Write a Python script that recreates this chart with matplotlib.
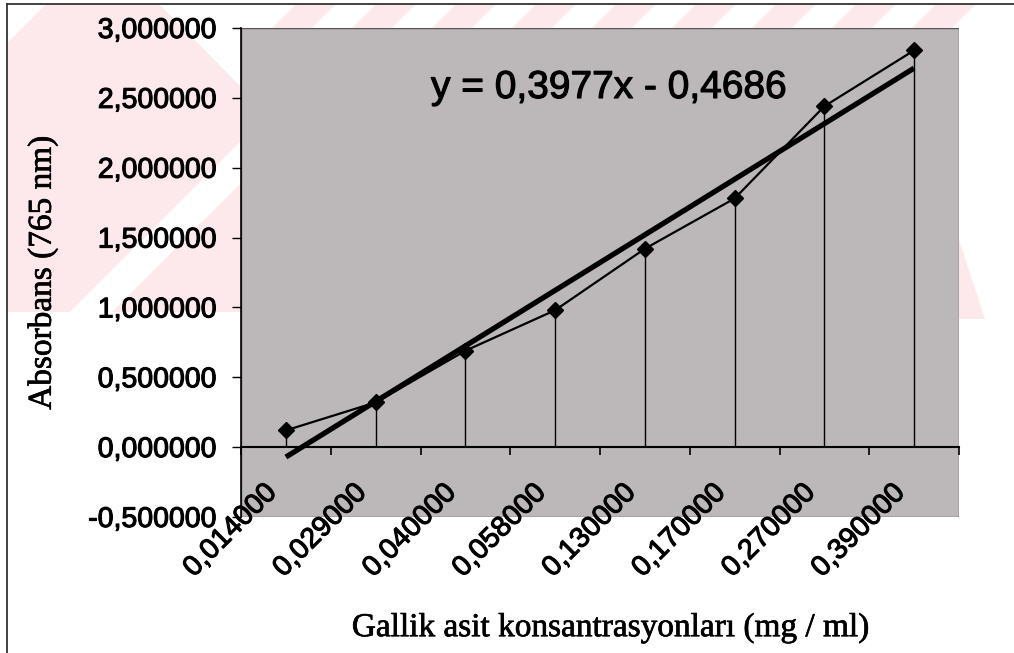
import matplotlib
matplotlib.use("Agg")
import matplotlib.pyplot as plt
from matplotlib.patches import Polygon, Rectangle
from matplotlib.lines import Line2D
from matplotlib.transforms import ScaledTranslation
import matplotlib.patheffects as pe
import numpy as np

# ---- data ----
categories = ["0,014000", "0,029000", "0,040000", "0,058000",
              "0,130000", "0,170000", "0,270000", "0,390000"]
absorbance = [0.12, 0.32, 0.69, 0.98, 1.42, 1.78, 2.44, 2.84]
trend_slope = 0.3977
trend_intercept = -0.4686
equation_text = "y = 0,3977x - 0,4686"
y_ticks = [-0.5, 0.0, 0.5, 1.0, 1.5, 2.0, 2.5, 3.0]
x_label = "Gallik asit konsantrasyonları (mg / ml)"
y_label = "Absorbans (765 nm)"

W, H = 1014, 653
fig = plt.figure(figsize=(W / 100, H / 100), dpi=100)
fig.patch.set_facecolor("white")

heavy = [pe.withStroke(linewidth=0.8, foreground="black")]
heavy_serif = [pe.withStroke(linewidth=0.5, foreground="black")]


def px(x, y):
    return (x / W, 1 - y / H)


def fig_poly(points, color):
    fig.patches.append(Polygon([px(*p) for p in points], closed=True,
                               transform=fig.transFigure, facecolor=color,
                               edgecolor="none", zorder=-2))


# ---- watermark (pale pink shapes behind the chart) ----
pink = "#fde8eb"
fig_poly([(8, 5), (242, 5), (242, 312), (8, 312)], pink)
fig_poly([(160, 5), (242, 5), (242, 88)], "white")
fig_poly([(8, 5), (45, 5), (8, 42)], "white")
fig_poly([(242, 140), (242, 182), (112, 312), (70, 312)], "white")
for x0 in range(255, 900, 80):
    fig_poly([(x0 + 40, 5), (x0 + 80, 5), (x0 + 57, 28), (x0 + 17, 28)], pink)
fig_poly([(959, 240), (959, 319), (985, 319)], pink)

# outer frame (left and top lines)
fig.lines.append(Line2D([7 / W, 7 / W], [0, 1 - 4 / H], transform=fig.transFigure,
                        color="#333333", lw=1.3))
fig.lines.append(Line2D([7 / W, 1], [1 - 4 / H, 1 - 4 / H], transform=fig.transFigure,
                        color="#333333", lw=1.3))

# ---- axes ----
left, right, top, bottom = 241, 959, 28, 517
ax = fig.add_axes([left / W, 1 - bottom / H, (right - left) / W, (bottom - top) / H])
ax.set_zorder(1)
ax.set_facecolor("#bcb7b8")
ax.set_xlim(0.5, len(categories) + 0.5)
ax.set_ylim(-0.5, 3.0)

x = np.arange(1, len(categories) + 1)

# drop lines
ax.vlines(x, 0, absorbance, color="black", lw=1.0, zorder=2)
# data line with diamond markers
ax.plot(x, absorbance, color="black", lw=1.6, marker="D", markersize=8,
        markerfacecolor="black", markeredgecolor="black", zorder=4)
# linear trend line
xt = np.array([x[0], x[-1]])
ax.plot(xt, trend_slope * xt + trend_intercept, color="black", lw=3.8,
        solid_capstyle="butt", zorder=3)

# plot area border
ax.add_patch(Rectangle((0, 0), 1, 1, transform=ax.transAxes, fill=False,
                       edgecolor="#555555", lw=1.0, zorder=1))

for s in ["top", "right"]:
    ax.spines[s].set_visible(False)
ax.spines["left"].set_color("black")
ax.spines["left"].set_linewidth(1.2)
ax.spines["bottom"].set_position(("data", 0))
ax.spines["bottom"].set_linewidth(1.5)
ax.spines["bottom"].set_zorder(5)

# y axis
ax.set_yticks(y_ticks)
ax.set_yticklabels([f"{v:.6f}".replace(".", ",") for v in y_ticks],
                   fontfamily="Liberation Sans", fontsize=20.5)
ax.tick_params(axis="y", direction="out", length=6.5, width=1.0, pad=11, colors="black")

# x axis: major ticks at category boundaries, labels at category centers
ax.set_xticks(np.arange(0.5, len(categories) + 1, 1.0))
ax.set_xticklabels([])
ax.tick_params(axis="x", which="major", direction="out", length=6, width=1.2)
ax.set_xticks(x, minor=True)
ax.set_xticklabels(categories, minor=True, fontfamily="Liberation Sans",
                   fontsize=20.5, rotation=45, ha="right", va="center",
                   rotation_mode="anchor")
ax.tick_params(axis="x", which="minor", length=0, pad=30)
offset = ScaledTranslation(-13 / 100, 0, fig.dpi_scale_trans)
for lab in ax.get_xticklabels(minor=True):
    lab.set_transform(lab.get_transform() + offset)
for lab in ax.get_xticklabels(minor=True) + ax.get_yticklabels():
    lab.set_path_effects(heavy)

# axis titles
ax.set_ylabel(y_label, fontfamily="Liberation Serif", fontsize=24)
ax.yaxis.set_label_coords((58 - left) / (right - left), 0.50)
ax.yaxis.label.set_path_effects(heavy_serif)
fig.text(*px(611, 628), x_label, fontfamily="Liberation Serif", fontsize=24,
         ha="center", va="center", path_effects=heavy_serif)

# trendline equation
fig.text(*px(609, 88), equation_text, fontfamily="Liberation Sans", fontsize=28,
         ha="center", va="center", color="black", zorder=10, path_effects=heavy)

fig.savefig("out.png", dpi=100, facecolor="white")
